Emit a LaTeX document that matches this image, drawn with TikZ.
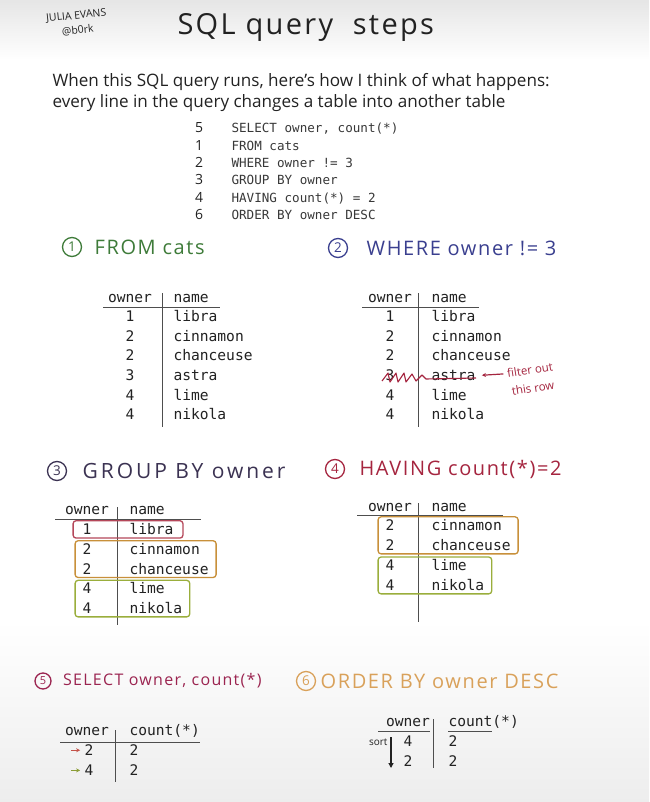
\documentclass[tikz,border=0pt]{standalone}
\usepackage{fontspec}
\setmainfont{Open Sans}
\setmonofont{DejaVu Sans Mono}
\newfontfamily\handwide{Open Sans}[LetterSpace=8]
\usetikzlibrary{arrows.meta, positioning, fit, calc}
\definecolor{cink}{HTML}{222222}
\definecolor{cgreen}{HTML}{3E7B39}
\definecolor{cblue}{HTML}{3A3F8F}
\definecolor{cplum}{HTML}{3B3252}
\definecolor{ccrimson}{HTML}{A5253F}
\definecolor{craspb}{HTML}{9B2450}
\definecolor{ctan}{HTML}{D9A15A}
\definecolor{cgred}{HTML}{B5475A}
\definecolor{cgorange}{HTML}{C8903A}
\definecolor{cglime}{HTML}{9AAE3C}
\tikzset{
  every picture/.style={line width=1pt},
  hand/.style={font=\fontsize{17.1}{20}\selectfont, text=cink, inner sep=0pt, anchor=base west},
  head/.style={font=\handwide\fontsize{20}{24}\selectfont, text=#1, inner sep=0pt, anchor=mid west},
  circnum/.style={draw=#1, text=#1, circle, line width=1.3pt, inner sep=0pt, minimum size=19pt, font=\fontsize{13.5}{13.5}\selectfont},
  code/.style={font=\ttfamily\fontsize{12.6}{15}\selectfont, text=cink!90, inner sep=0pt, anchor=mid west},
  codenum/.style={font=\fontsize{14}{15}\selectfont, text=cink, inner sep=0pt, anchor=mid},
  cell/.style={font=\ttfamily\fontsize{14.6}{16}\selectfont, text=cink, inner sep=1pt, anchor=mid},
  rowname/.style={cell, anchor=mid west},
  rule/.style={draw=cink!80, line width=1pt},
  grp/.style={draw=#1, rounded corners=3pt, line width=1.3pt, inner xsep=6pt, inner ysep=1.5pt},
  tip/.style={-{Stealth[length=4pt, width=4pt]}, draw=#1, line width=1.2pt},
  scrawl/.style={font=\fontsize{11.5}{13}\selectfont, text=ccrimson, rotate=9, inner sep=0.5pt},
}

\begin{document}
\begin{tikzpicture}[x=1pt, y=-1pt]
  \useasboundingbox (0,0) rectangle (649,802);
  \fill[white] (0,0) rectangle (649,802);
  \shade[top color=black!10, bottom color=white] (0,0) rectangle (649,60);
  \shade[top color=white, bottom color=black!7] (0,620) rectangle (649,802);
  % title
  \node[font=\fontsize{10.5}{15}\selectfont, text=cink, rotate=6, align=center, inner sep=0pt] (sig) at (77,23) {JULIA EVANS\\@b0rk};
  \node[font=\handwide\fontsize{29}{32}\selectfont, text=cink, inner sep=0pt, anchor=base west] (title) at (177,35) {SQL query \ steps};
  \node[hand] (intro1) at (52,87) {When this SQL query runs, here's how I think of what happens:};
  \node[hand] (intro2) at (52,108) {every line in the query changes a table into another table};
  % the query, with run order
  \foreach \n/\c [count=\i] in {5/{SELECT owner, count(*)}, 1/FROM cats, 2/{WHERE owner != 3}, 3/GROUP BY owner, 4/{HAVING count(*) = 2}, 6/ORDER BY owner DESC}{
    \node[codenum] (qn\i) at (199,113+17.3*\i) {\n};
    \node[code] (q\i) at (231,113+17.3*\i) {\c};
  }
  % step headings
  \node[circnum=cgreen] (h1c) at (72,247) {1};
  \node[head=cgreen, right=12pt of h1c] (h1) {FROM cats};
  \node[circnum=cblue] (h2c) at (338,248) {2};
  \node[head=cblue, right=18pt of h2c] (h2) {WHERE owner != 3};
  \node[circnum=cplum] (h3c) at (57,471) {3};
  \node[head=cplum, right=15pt of h3c, font=\handwide\fontsize{21}{24}\selectfont\addfontfeatures{LetterSpace=14}] (h3) {GROUP BY owner};
  \node[circnum=ccrimson] (h4c) at (335,469) {4};
  \node[head=ccrimson, right=14pt of h4c] (h4) {HAVING count(*)=2};
  \node[circnum=craspb, minimum size=16pt, font=\fontsize{11}{11}\selectfont] (h5c) at (43,681) {5};
  \node[head=craspb, right=11pt of h5c, font=\handwide\fontsize{16}{18}\selectfont] (h5) {SELECT owner, count(*)};
  \node[circnum=ctan] (h6c) at (306,681) {6};
  \node[head=ctan, right=4pt of h6c] (h6) {ORDER BY owner DESC};
  % table 1: FROM cats
  \node[cell] (t1oh) at (130,300) {owner};
  \node[rowname] (t1nh) at (172,300) {name};
  \foreach \o/\n [count=\i] in {1/libra, 2/cinnamon, 2/chanceuse, 3/astra, 4/lime, 4/nikola}{
    \node[cell] (t1o\i) at (130,299.5+19.6*\i) {\o};
    \node[rowname] (t1n\i) at (172,299.5+19.6*\i) {\n};
  }
  \draw[rule] (103,307) -- (220,307);
  \draw[rule] (162,293) -- (162,427);
  % table 2: WHERE
  \node[cell] (t2oh) at (390,300) {owner};
  \node[rowname] (t2nh) at (430,300) {name};
  \foreach \o/\n [count=\i] in {1/libra, 2/cinnamon, 2/chanceuse, 3/astra, 4/lime, 4/nikola}{
    \node[cell] (t2o\i) at (390,299.5+19.6*\i) {\o};
    \node[rowname] (t2n\i) at (430,299.5+19.6*\i) {\n};
  }
  \draw[rule] (362,307) -- (479,307);
  \draw[rule] (418,293) -- (418,427);
  \draw[ccrimson, line width=1.1pt, line join=round]
    (382,381) -- (388,373) -- (390,382) -- (396,373) -- (398,382) -- (404,373) -- (406,382) -- (412,374) -- (416,381) -- (422,375) -- (426,379) -- (476,378);
  \node[scrawl] (t2note) at (530,370) {filter out};
  \node[scrawl] (t2row) at (533,388) {this row};
  \draw[tip=ccrimson, shorten >=5pt, shorten <=3pt] (t2note.west) -- (t2n4.east);
  % table 3: GROUP BY
  \node[cell] (t3oh) at (87,512) {owner};
  \node[rowname] (t3nh) at (128,512) {name};
  \foreach \o/\n [count=\i] in {1/libra, 2/cinnamon, 2/chanceuse, 4/lime, 4/nikola}{
    \node[cell] (t3o\i) at (87,512.5+19.7*\i) {\o};
    \node[rowname] (t3n\i) at (128,512.5+19.7*\i) {\n};
  }
  \draw[rule] (55,519) -- (201,519);
  \draw[rule] (117,507) -- (117,625);
  \node[grp=cgred, fit=(t3o1)(t3n1), inner xsep=8pt] (g31) {};
  \node[grp=cgorange, fit=(t3o2)(t3n3)] (g32) {};
  \node[grp=cglime, fit=(t3o4)(t3n5)] (g33) {};
  % table 4: HAVING
  \node[cell] (t4oh) at (390,509) {owner};
  \node[rowname] (t4nh) at (430,509) {name};
  \foreach \o/\n [count=\i] in {2/cinnamon, 2/chanceuse, 4/lime, 4/nikola}{
    \node[cell] (t4o\i) at (390,508+20*\i) {\o};
    \node[rowname] (t4n\i) at (430,508+20*\i) {\n};
  }
  \draw[rule] (357,515) -- (503,515);
  \draw[rule] (418,503) -- (418,622);
  \node[grp=cgorange, fit=(t4o1)(t4n2)] (g41) {};
  \node[grp=cglime, fit=(t4o3)(t4n4)] (g42) {};
  % table 5: SELECT
  \node[cell] (t5oh) at (87,733) {owner};
  \node[rowname] (t5ch) at (128,733) {count(*)};
  \foreach \o/\c [count=\i] in {2/2, 4/2}{
    \node[cell] (t5o\i) at (89,733+20*\i) {\o};
    \node[rowname] (t5c\i) at (128,733+20*\i) {\c};
  }
  \draw[rule] (60,742) -- (200,742);
  \draw[rule] (115,730) -- (115,782);
  \coordinate[left=12pt of t5o1] (t5a1);
  \coordinate[left=12pt of t5o2] (t5a2);
  \draw[tip=cgred!80!orange, line width=1pt, shorten >=3pt] (t5a1) -- (t5o1);
  \draw[tip=cglime!90!black, line width=1pt, shorten >=3pt] (t5a2) -- (t5o2);
  % table 6: ORDER BY
  \node[cell] (t6oh) at (408,724) {owner};
  \node[rowname] (t6ch) at (447,724) {count(*)};
  \foreach \o/\c [count=\i] in {4/2, 2/2}{
    \node[cell] (t6o\i) at (408,724+20*\i) {\o};
    \node[rowname] (t6c\i) at (447,724+20*\i) {\c};
  }
  \draw[rule] (378,731) -- (430,731);
  \draw[rule] (448,731) -- (492,731);
  \draw[rule] (433,719) -- (433,768);
  \coordinate (s1) at (391,737);
  \coordinate (s2) at (391,768);
  \draw[-{Triangle[length=5pt, width=5pt]}, draw=cink, fill=cink, line width=1.1pt] (s1) -- (s2);
  \node[font=\fontsize{10}{11}\selectfont, text=cink, inner sep=1pt, left=2pt of s1, anchor=north east] (sort) {sort};
\end{tikzpicture}
\end{document}
